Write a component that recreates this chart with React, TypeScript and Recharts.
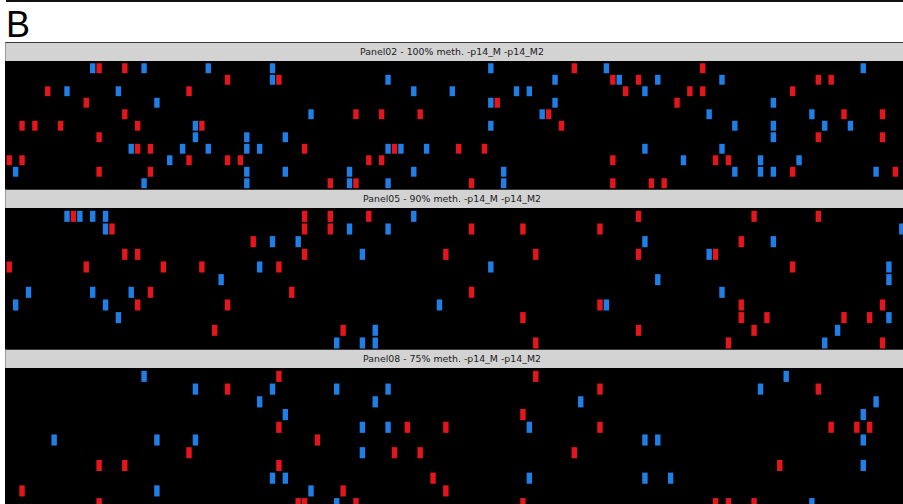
import React from 'react';
import { ScatterChart, Scatter, XAxis, YAxis } from 'recharts';

// Grid: 140 columns (CpG positions) x 11 rows (clones) per panel
const columnCount = 140;
const rowCount = 11;

const panelTitles = [
  'Panel02 - 100% meth. -p14_M -p14_M2',
  'Panel05 - 90% meth. -p14_M -p14_M2',
  'Panel08 - 75% meth. -p14_M -p14_M2',
];

// [column, row]
const panel02Red: [number, number][] = [
  [14, 0], [18, 0], [88, 0], [108, 0],
  [34, 1], [42, 1], [94, 1], [98, 1], [126, 1], [128, 1],
  [6, 2], [28, 2], [96, 2], [106, 2], [108, 2], [122, 2],
  [12, 3], [76, 3], [104, 3],
  [18, 4], [54, 4], [58, 4], [64, 4], [84, 4], [130, 4], [136, 4],
  [2, 5], [4, 5], [8, 5], [20, 5], [30, 5], [86, 5],
  [14, 6], [126, 6], [136, 6],
  [20, 7], [22, 7], [46, 7], [60, 7], [70, 7], [74, 7],
  [0, 8], [2, 8], [28, 8], [34, 8], [36, 8], [56, 8], [58, 8], [94, 8], [110, 8], [112, 8],
  [14, 9], [22, 9], [122, 9], [138, 9],
  [50, 10], [54, 10], [72, 10], [94, 10], [100, 10], [102, 10],
];
const panel02Blue: [number, number][] = [
  [13, 0], [21, 0], [31, 0], [41, 0], [75, 0], [93, 0], [133, 0],
  [41, 1], [59, 1], [85, 1], [95, 1], [101, 1], [111, 1],
  [9, 2], [17, 2], [63, 2], [69, 2], [79, 2], [81, 2], [99, 2],
  [23, 3], [75, 3], [85, 3], [119, 3],
  [47, 4], [83, 4], [109, 4], [125, 4],
  [29, 5], [75, 5], [113, 5], [119, 5], [127, 5], [131, 5],
  [29, 6], [37, 6], [43, 6], [119, 6],
  [19, 7], [27, 7], [31, 7], [37, 7], [39, 7], [59, 7], [61, 7], [65, 7], [99, 7], [111, 7],
  [25, 8], [105, 8], [117, 8], [123, 8],
  [1, 9], [37, 9], [43, 9], [53, 9], [63, 9], [77, 9], [113, 9], [117, 9], [119, 9], [135, 9],
  [21, 10], [37, 10], [53, 10], [59, 10], [77, 10],
];

const panel05Red: [number, number][] = [
  [10, 0], [46, 0], [50, 0], [56, 0], [98, 0], [116, 0], [126, 0],
  [16, 1], [46, 1], [50, 1], [72, 1], [80, 1], [92, 1],
  [38, 2], [114, 2],
  [18, 3], [20, 3], [46, 3], [68, 3], [82, 3], [98, 3], [110, 3],
  [0, 4], [12, 4], [24, 4], [30, 4], [42, 4], [122, 4],
  [22, 6], [44, 6], [72, 6],
  [20, 7], [34, 7], [92, 7], [114, 7], [136, 7],
  [80, 8], [114, 8], [118, 8], [130, 8], [134, 8],
  [32, 9], [52, 9], [98, 9], [116, 9],
  [82, 10], [112, 10], [136, 10],
];
const panel05Blue: [number, number][] = [
  [9, 0], [11, 0], [13, 0], [15, 0], [63, 0],
  [15, 1], [53, 1], [59, 1], [139, 1],
  [41, 2], [45, 2], [99, 2], [119, 2],
  [55, 3], [109, 3],
  [39, 4], [75, 4], [137, 4],
  [33, 5], [101, 5], [137, 5],
  [3, 6], [13, 6], [19, 6], [111, 6],
  [1, 7], [15, 7], [67, 7], [93, 7],
  [17, 8], [137, 8],
  [57, 9], [129, 9],
  [51, 10], [55, 10], [57, 10], [127, 10],
];

const panel08Red: [number, number][] = [
  [42, 0], [82, 0],
  [34, 1], [92, 1], [126, 1],
  [80, 3],
  [42, 4], [62, 4], [68, 4], [92, 4], [128, 4], [132, 4], [134, 4],
  [48, 5],
  [28, 6], [60, 6], [64, 6], [88, 6],
  [14, 7], [18, 7], [42, 7], [120, 7],
  [66, 8],
  [2, 9], [52, 9], [68, 9],
  [14, 10], [45, 10], [46, 10], [54, 10], [80, 10], [110, 10], [112, 10], [116, 10],
];
const panel08Blue: [number, number][] = [
  [21, 0], [121, 0],
  [29, 1], [41, 1], [51, 1], [59, 1], [117, 1],
  [39, 2], [57, 2], [89, 2], [135, 2],
  [43, 3], [133, 3],
  [55, 4], [59, 4], [81, 4],
  [7, 5], [23, 5], [29, 5], [99, 5], [101, 5], [133, 5],
  [55, 6],
  [133, 7],
  [41, 8], [43, 8], [81, 8], [99, 8], [103, 8],
  [23, 9], [47, 9],
  [51, 10], [125, 10],
];

const RED = '#e5161b';
const BLUE = '#1f7fe6';

type Cell = { x: number; y: number };
const toPoints = (cells: [number, number][]): Cell[] =>
  cells.map(([c, r]) => ({ x: c + 0.5, y: r + 0.5 }));

const CHART_W = 899;

function makeShape(color: string, pitchY: number) {
  const w = 5.4;
  const h = pitchY - 1.6;
  return (props: any) => {
    const { cx, cy } = props;
    if (cx == null || cy == null) return <g />;
    return <rect x={cx - w / 2} y={cy - h / 2} width={w} height={h} fill={color} />;
  };
}

function Panel(props: {
  top: number;
  title: string;
  dataHeight: number;
  marginTop: number;
  plotHeight: number;
  red: [number, number][];
  blue: [number, number][];
}) {
  const { top, title, dataHeight, marginTop, plotHeight, red, blue } = props;
  const pitchY = plotHeight / rowCount;
  return (
    <>
      <div
        style={{
          position: 'absolute',
          left: 5,
          top,
          width: 903,
          height: 18,
          background: '#d3d3d3',
          borderTop: '1.5px solid #3a3a3a',
          borderLeft: '1px solid #9a9a9a',
          boxSizing: 'content-box',
          fontFamily: '"DejaVu Sans", Verdana, sans-serif',
          fontSize: 9.4,
          color: '#1a1a1a',
          lineHeight: '18px',
        }}
      >
        <div style={{ position: 'absolute', left: 0, width: 892, textAlign: 'center', top: 0, whiteSpace: 'pre' }}>{title}</div>
      </div>
      <div
        style={{
          position: 'absolute',
          left: 5,
          top: top + 19,
          width: 903,
          height: dataHeight,
          background: '#000',
          overflow: 'hidden',
        }}
      >
        <div style={{ position: 'absolute', left: 1, top: 0 }}>
          <ScatterChart
            width={CHART_W}
            height={marginTop + plotHeight}
            margin={{ top: marginTop, right: 0, bottom: 0, left: 0 }}
          >
            <XAxis type="number" dataKey="x" domain={[0, columnCount]} hide />
            <YAxis type="number" dataKey="y" domain={[0, rowCount]} reversed hide />
            <Scatter data={toPoints(red)} shape={makeShape(RED, pitchY)} isAnimationActive={false} />
            <Scatter data={toPoints(blue)} shape={makeShape(BLUE, pitchY)} isAnimationActive={false} />
          </ScatterChart>
        </div>
      </div>
    </>
  );
}

export default function App() {
  return (
    <div
      style={{
        position: 'absolute',
        left: 0,
        top: 0,
        width: 903,
        height: 504,
        overflow: 'hidden',
        background: '#fff',
      }}
    >
      <div
        style={{
          position: 'absolute',
          left: 6,
          top: -10,
          width: 910,
          height: 10,
          borderLeft: '2px solid #111',
          borderBottom: '2.5px solid #111',
          boxSizing: 'content-box',
        }}
      />
      <div
        style={{
          position: 'absolute',
          left: 6,
          top: 7,
          fontFamily: '"Liberation Sans", Arial, sans-serif',
          fontSize: 36,
          lineHeight: '36px',
          color: '#000',
        }}
      >
        B
      </div>
      <Panel top={42} title={panelTitles[0]} dataHeight={128} marginTop={1.5} plotHeight={126.5} red={panel02Red} blue={panel02Blue} />
      <Panel top={189} title={panelTitles[1]} dataHeight={141} marginTop={2} plotHeight={139.3} red={panel05Red} blue={panel05Blue} />
      <Panel top={348.5} title={panelTitles[2]} dataHeight={140} marginTop={2} plotHeight={140} red={panel08Red} blue={panel08Blue} />
    </div>
  );
}
